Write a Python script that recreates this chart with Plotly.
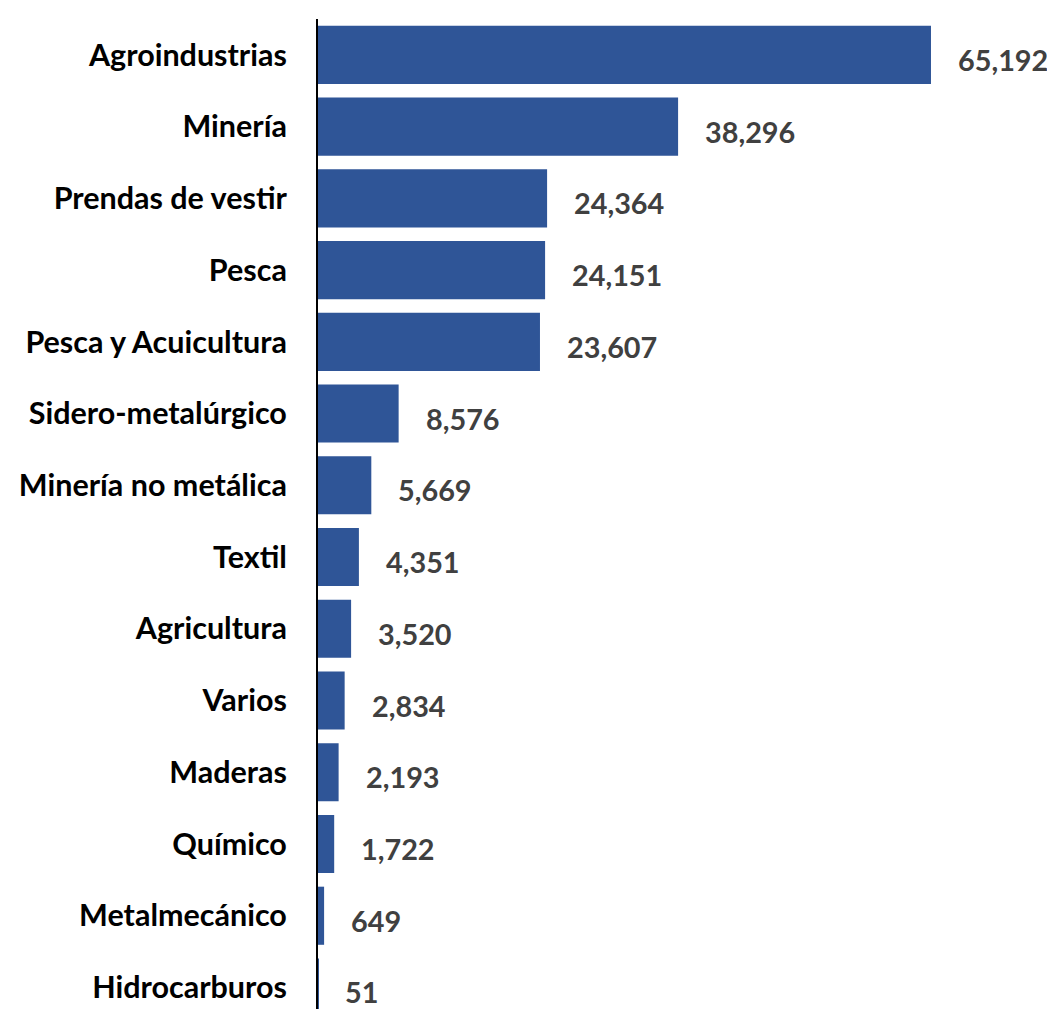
import plotly.graph_objects as go

categories = ["Agroindustrias", "Minería", "Prendas de vestir", "Pesca", "Pesca y Acuicultura",
              "Sidero-metalúrgico", "Minería no metálica", "Textil", "Agricultura", "Varios",
              "Maderas", "Químico", "Metalmecánico", "Hidrocarburos"]
values = [65192, 38296, 24364, 24151, 23607, 8576, 5669, 4351, 3520, 2834, 2193, 1722, 649, 51]
value_labels = [f"{v:,}" for v in values]

FONT = "Lato"
fig = go.Figure(go.Bar(
    x=values, y=categories, orientation="h",
    marker=dict(color="#2F5597", line=dict(width=0)),
    hoverinfo="skip",
))

for c, v, t in zip(categories, values, value_labels):
    fig.add_annotation(x=v, y=c, text=f"<b>{t}</b>", showarrow=False,
                       xanchor="left", yanchor="middle", xshift=25, yshift=-5,
                       font=dict(family=FONT, size=28.8, color="#404040"))

fig.update_layout(
    width=1047, height=1001,
    margin=dict(l=310, r=0, t=11, b=0, autoexpand=False),
    plot_bgcolor="white", paper_bgcolor="white",
    bargap=0.19, showlegend=False,
)
fig.update_xaxes(range=[0, 78380], visible=False, showgrid=False, zeroline=False)
fig.update_yaxes(categoryorder="array", categoryarray=categories, automargin=False,
                 range=[13.3, -0.5], showline=True, linecolor="black", linewidth=2,
                 showgrid=False, zeroline=False, ticks="", ticklabelstandoff=23,
                 tickfont=dict(family=FONT, size=30.5, color="black", weight="bold"))

fig.write_html("out.html")
